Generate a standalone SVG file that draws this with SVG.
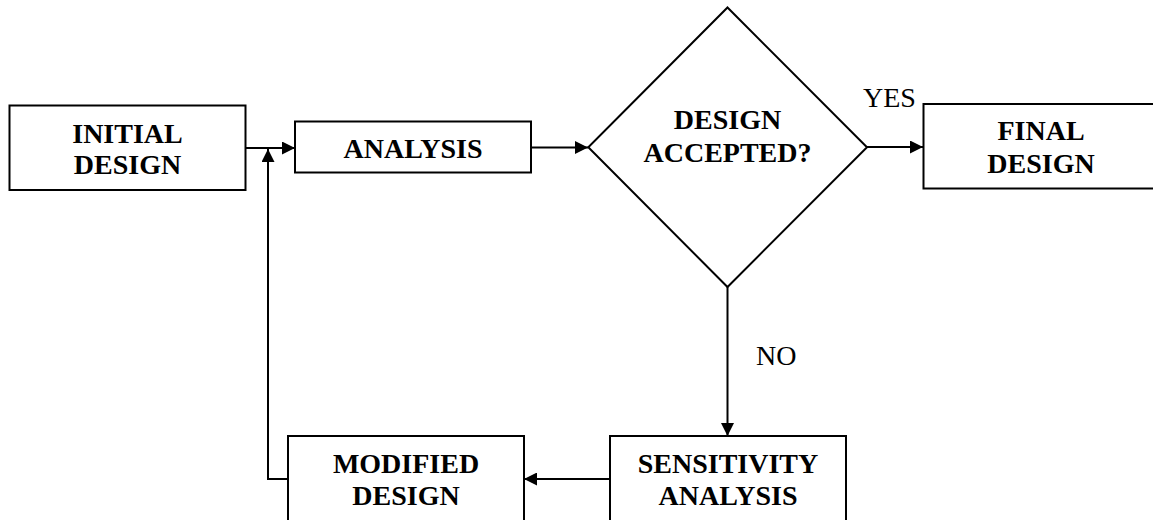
<svg xmlns="http://www.w3.org/2000/svg" width="1153" height="520" viewBox="0 0 1153 520">
  <style>
    .box { fill: #ffffff; stroke: #000000; stroke-width: 2; }
    .lbl { font-family: "Liberation Serif", "Times New Roman", serif; font-size: 28px; font-weight: bold; fill: #000000; text-anchor: middle; }
    .edge-lbl { font-family: "Liberation Serif", "Times New Roman", serif; font-size: 28px; fill: #000000; }
    .conn { fill: none; stroke: #000000; stroke-width: 2; }
  </style>
  <defs>
    <marker id="arrow" markerUnits="userSpaceOnUse" markerWidth="13" markerHeight="13" refX="13" refY="6.5" orient="auto">
      <path d="M0,0 L13,6.5 L0,13 Z" fill="#000000"/>
    </marker>
  </defs>
  <rect width="1153" height="520" fill="#ffffff"/>

  <g id="connectors">
    <line class="conn" x1="246" y1="148" x2="295" y2="148" marker-end="url(#arrow)"/>
    <polyline class="conn" points="288,479 268,479 268,149" marker-end="url(#arrow)"/>
    <line class="conn" x1="531" y1="147.5" x2="588" y2="147.5" marker-end="url(#arrow)"/>
    <line class="conn" x1="867" y1="147" x2="923" y2="147" marker-end="url(#arrow)"/>
    <line class="conn" x1="727.5" y1="287" x2="727.5" y2="436" marker-end="url(#arrow)"/>
    <line class="conn" x1="610" y1="479" x2="524" y2="479" marker-end="url(#arrow)"/>
    <text class="edge-lbl" x="863" y="107">YES</text>
    <text class="edge-lbl" x="756" y="365">NO</text>
  </g>

  <g id="initial-design">
    <rect class="box" x="9.5" y="105.5" width="236" height="84.5"/>
    <text class="lbl" x="127.5" y="143">INITIAL</text>
    <text class="lbl" x="127.5" y="174">DESIGN</text>
  </g>

  <g id="analysis">
    <rect class="box" x="295" y="121.5" width="236" height="51"/>
    <text class="lbl" x="413" y="158">ANALYSIS</text>
  </g>

  <g id="design-accepted">
    <polygon class="box" points="727.5,7.5 867,147.3 727.5,287 588.3,147.3"/>
    <text class="lbl" x="727.5" y="129">DESIGN</text>
    <text class="lbl" x="727.5" y="162">ACCEPTED?</text>
  </g>

  <g id="final-design">
    <rect class="box" x="923.5" y="104" width="236" height="84.5"/>
    <text class="lbl" x="1041" y="140">FINAL</text>
    <text class="lbl" x="1041" y="173">DESIGN</text>
  </g>

  <g id="sensitivity-analysis">
    <rect class="box" x="610" y="436" width="236" height="100"/>
    <text class="lbl" x="728" y="473">SENSITIVITY</text>
    <text class="lbl" x="728" y="505">ANALYSIS</text>
  </g>

  <g id="modified-design">
    <rect class="box" x="288" y="436" width="236" height="100"/>
    <text class="lbl" x="406" y="473">MODIFIED</text>
    <text class="lbl" x="406" y="505">DESIGN</text>
  </g>
</svg>
